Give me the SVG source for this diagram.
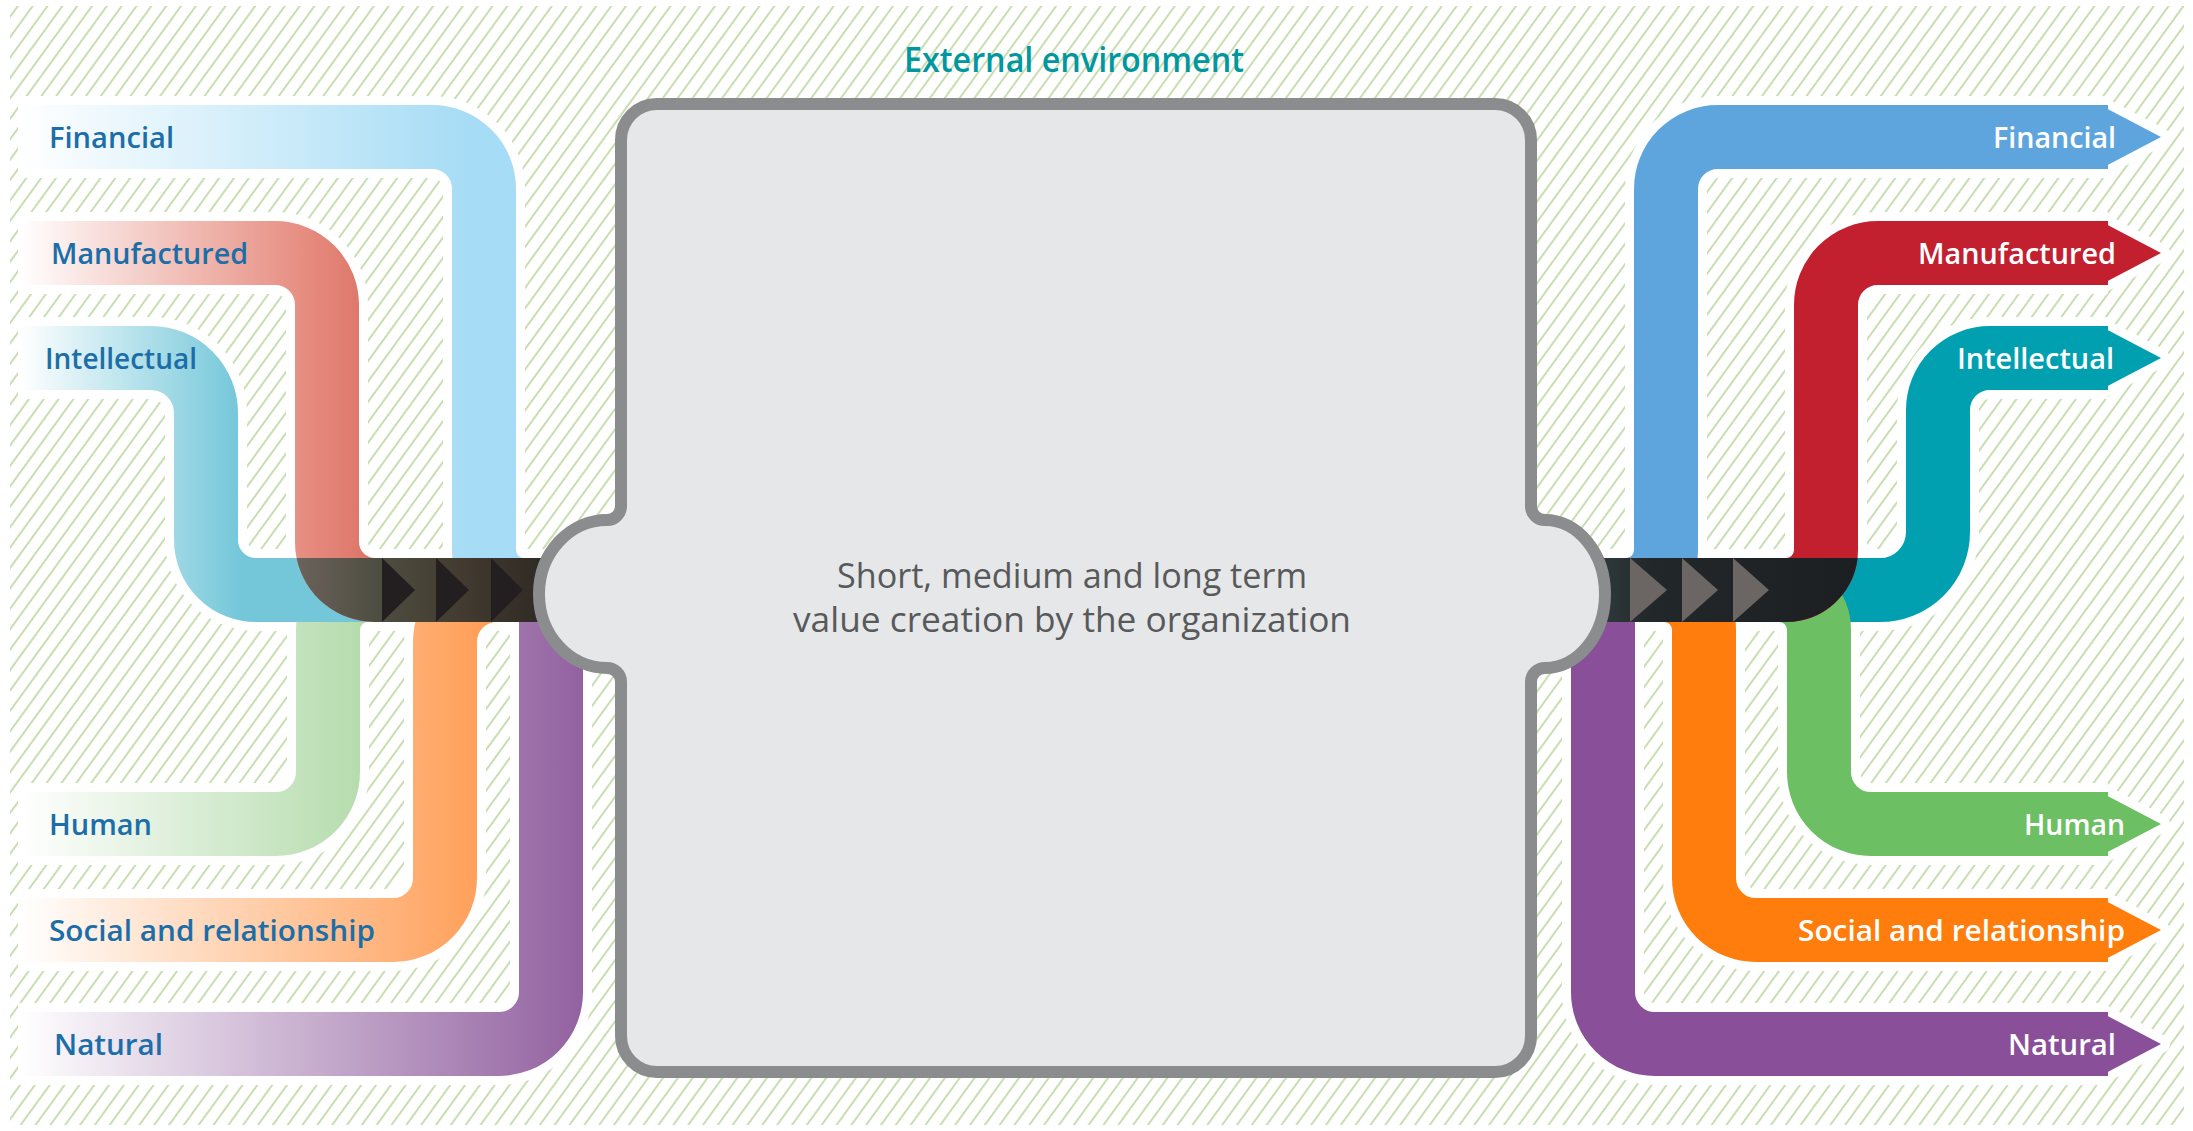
<svg xmlns="http://www.w3.org/2000/svg" width="2193" height="1131" viewBox="0 0 2193 1131">
<defs>
<style>
.halo{fill:none;stroke:#ffffff;stroke-width:82;stroke-linejoin:round}
.band{fill:none;stroke-width:64}
.ahalo{stroke:#ffffff;stroke-width:18;stroke-linejoin:round}
.lbl{font-family:"Open Sans","Liberation Sans",Arial,sans-serif;font-size:29px;font-weight:600}
.lblL{fill:#1b6ea8}
.lblR{fill:#ffffff}
.ctr{font-family:"Open Sans","Liberation Sans",Arial,sans-serif;font-size:35px;font-weight:500;fill:#58595b}
.ttl{font-family:"Open Sans","Liberation Sans",Arial,sans-serif;font-size:34px;font-weight:600;fill:#00979f}
.triL{fill:#231f20}
.triR{fill:#6b6563}
</style>
<pattern id="hatch" width="12" height="12" patternUnits="userSpaceOnUse" patternTransform="rotate(36)">
<rect width="12" height="12" fill="#ffffff"/>
<line x1="6" y1="0" x2="6" y2="12" stroke="#bfd8a4" stroke-width="1.7"/>
</pattern>
<linearGradient id="gFinL" gradientUnits="userSpaceOnUse" x1="20" y1="0" x2="470" y2="0"><stop offset="0" stop-color="#ffffff"/><stop offset="1" stop-color="#a6dcf5"/></linearGradient>
<linearGradient id="gManL" gradientUnits="userSpaceOnUse" x1="20" y1="0" x2="360" y2="0"><stop offset="0" stop-color="#ffffff"/><stop offset="0.85" stop-color="#e68b7e"/><stop offset="1" stop-color="#de786c"/></linearGradient>
<linearGradient id="gIntL" gradientUnits="userSpaceOnUse" x1="20" y1="0" x2="240" y2="0"><stop offset="0" stop-color="#ffffff"/><stop offset="1" stop-color="#74c7d9"/></linearGradient>
<linearGradient id="gHumL" gradientUnits="userSpaceOnUse" x1="20" y1="0" x2="360" y2="0"><stop offset="0" stop-color="#ffffff"/><stop offset="1" stop-color="#b6dcae"/></linearGradient>
<linearGradient id="gSocL" gradientUnits="userSpaceOnUse" x1="20" y1="0" x2="478" y2="0"><stop offset="0" stop-color="#ffffff"/><stop offset="1" stop-color="#ffa05a"/></linearGradient>
<linearGradient id="gNatL" gradientUnits="userSpaceOnUse" x1="20" y1="0" x2="585" y2="0"><stop offset="0" stop-color="#ffffff"/><stop offset="1" stop-color="#9261a0"/></linearGradient>
<linearGradient id="gTrunkL" gradientUnits="userSpaceOnUse" x1="297" y1="0" x2="548" y2="0"><stop offset="0" stop-color="#6b625c"/><stop offset="0.33" stop-color="#4d4d40"/><stop offset="0.65" stop-color="#433b30"/><stop offset="1" stop-color="#2e2924"/></linearGradient>
<linearGradient id="gTrunkR" gradientUnits="userSpaceOnUse" x1="1600" y1="0" x2="1860" y2="0"><stop offset="0" stop-color="#2f3a3c"/><stop offset="0.2" stop-color="#222729"/><stop offset="1" stop-color="#1c1f21"/></linearGradient>
</defs>

<rect width="2193" height="1131" fill="#ffffff"/>
<rect x="10" y="6" width="2174" height="1119" fill="url(#hatch)"/>

<g id="connectors">
  <g id="halos">
    <path class="halo" d="M 551 600 V 992 A 52 52 0 0 1 499 1044 H 18"/>
    <path class="halo" d="M 560 590 H 497 A 52 52 0 0 0 445 642 V 878 A 52 52 0 0 1 393 930 H 18"/>
    <path class="halo" d="M 560 590 H 368 A 40 40 0 0 0 328 630 V 772 A 52 52 0 0 1 276 824 H 18"/>
    <path class="halo" d="M 18 358 H 151 A 55 55 0 0 1 206 413 V 540 A 50 50 0 0 0 256 590 H 560"/>
    <path class="halo" d="M 18 253 H 275 A 52 52 0 0 1 327 305 V 542 A 48 48 0 0 0 375 590 H 560"/>
    <path class="halo" d="M 18 137 H 432 A 52 52 0 0 1 484 189 V 550 A 40 40 0 0 0 524 590 H 560"/>
    <path class="halo" d="M 1603 600 V 992 A 52 52 0 0 0 1655 1044 H 2108"/>
    <path class="halo" d="M 1540 590 H 1664 A 40 40 0 0 1 1704 630 V 878 A 52 52 0 0 0 1756 930 H 2108"/>
    <path class="halo" d="M 1540 590 H 1779 A 40 40 0 0 1 1819 630 V 772 A 52 52 0 0 0 1871 824 H 2108"/>
    <path class="halo" d="M 1540 590 H 1880 A 58 58 0 0 0 1938 532 V 410 A 52 52 0 0 1 1990 358 H 2108"/>
    <path class="halo" d="M 1540 590 H 1786 A 40 40 0 0 0 1826 550 V 305 A 52 52 0 0 1 1878 253 H 2108"/>
    <path class="halo" d="M 1540 590 H 1626 A 40 40 0 0 0 1666 550 V 189 A 52 52 0 0 1 1718 137 H 2108"/>
    <polygon class="ahalo" fill="#ffffff" points="2100,105 2161,137 2100,169"/>
    <polygon class="ahalo" fill="#ffffff" points="2100,221 2161,253 2100,285"/>
    <polygon class="ahalo" fill="#ffffff" points="2100,326 2161,358 2100,390"/>
    <polygon class="ahalo" fill="#ffffff" points="2100,792 2161,824 2100,856"/>
    <polygon class="ahalo" fill="#ffffff" points="2100,898 2161,930 2100,962"/>
    <polygon class="ahalo" fill="#ffffff" points="2100,1012 2161,1044 2100,1076"/>
  </g>
  <g id="inputs">
    <path class="band" stroke="url(#gNatL)" d="M 551 600 V 992 A 52 52 0 0 1 499 1044 H 18"/>
    <path class="band" stroke="url(#gSocL)" d="M 560 590 H 497 A 52 52 0 0 0 445 642 V 878 A 52 52 0 0 1 393 930 H 18"/>
    <path class="band" stroke="url(#gHumL)" d="M 560 590 H 368 A 40 40 0 0 0 328 630 V 772 A 52 52 0 0 1 276 824 H 18"/>
    <path class="band" stroke="url(#gIntL)" d="M 18 358 H 151 A 55 55 0 0 1 206 413 V 540 A 50 50 0 0 0 256 590 H 560"/>
    <path class="band" stroke="url(#gManL)" d="M 18 253 H 275 A 52 52 0 0 1 327 305 V 542 A 48 48 0 0 0 375 590 H 560"/>
    <path class="band" stroke="url(#gFinL)" d="M 18 137 H 432 A 52 52 0 0 1 484 189 V 550 A 40 40 0 0 0 524 590 H 560"/>
  </g>
  <g id="outputs">
    <path class="band" stroke="#894f99" d="M 1603 600 V 992 A 52 52 0 0 0 1655 1044 H 2108"/>
    <path class="band" stroke="#fe7d0c" d="M 1540 590 H 1664 A 40 40 0 0 1 1704 630 V 878 A 52 52 0 0 0 1756 930 H 2108"/>
    <path class="band" stroke="#00a0b1" d="M 1540 590 H 1880 A 58 58 0 0 0 1938 532 V 410 A 52 52 0 0 1 1990 358 H 2108"/>
    <path class="band" stroke="#6dbf63" d="M 1540 590 H 1779 A 40 40 0 0 1 1819 630 V 772 A 52 52 0 0 0 1871 824 H 2108"/>
    <path class="band" stroke="#c21f2f" d="M 1540 590 H 1786 A 40 40 0 0 0 1826 550 V 305 A 52 52 0 0 1 1878 253 H 2108"/>
    <path class="band" stroke="#5ea5de" d="M 1540 590 H 1626 A 40 40 0 0 0 1666 550 V 189 A 52 52 0 0 1 1718 137 H 2108"/>
    <polygon fill="#5ea5de" points="2100,105 2161,137 2100,169"/>
    <polygon fill="#c21f2f" points="2100,221 2161,253 2100,285"/>
    <polygon fill="#00a0b1" points="2100,326 2161,358 2100,390"/>
    <polygon fill="#6dbf63" points="2100,792 2161,824 2100,856"/>
    <polygon fill="#fe7d0c" points="2100,898 2161,930 2100,962"/>
    <polygon fill="#894f99" points="2100,1012 2161,1044 2100,1076"/>
  </g>
  <g id="trunks">
    <path fill="url(#gTrunkL)" d="M 296.6 558 H 548 V 622 H 375 A 80 80 0 0 1 296.6 558 Z"/>
    <polygon class="triL" points="382,558 415,590 382,622"/>
    <polygon class="triL" points="436,558 469,590 436,622"/>
    <polygon class="triL" points="491,558 523,590 491,622"/>
    <path fill="url(#gTrunkR)" d="M 1540 558 H 1857.6 A 72 72 0 0 1 1786 622 H 1540 Z"/>
    <polygon class="triR" points="1630,558 1667,590 1630,622"/>
    <polygon class="triR" points="1682,558 1718,590 1682,622"/>
    <polygon class="triR" points="1733,558 1769,590 1733,622"/>
  </g>
</g>

<g id="node-organization">
  <path fill="#e6e7e8" stroke="#8b8c8e" stroke-width="12" d="M 657 104 H 1495 A 36 36 0 0 1 1531 140 V 506 A 14 14 0 0 0 1545 520 A 60 74 0 0 1 1545 668 A 14 14 0 0 0 1531 682 V 1036 A 36 36 0 0 1 1495 1072 H 657 A 36 36 0 0 1 621 1036 V 682 A 14 14 0 0 0 607 668 A 68 74 0 0 1 607 520 A 14 14 0 0 0 621 506 V 140 A 36 36 0 0 1 657 104 Z"/>
  <text class="ctr" x="837" y="588" textLength="470" lengthAdjust="spacingAndGlyphs">Short, medium and long term</text>
  <text class="ctr" x="793" y="632" textLength="558" lengthAdjust="spacingAndGlyphs">value creation by the organization</text>
</g>

<g id="node-external">
  <text class="ttl" x="904" y="72" textLength="340" lengthAdjust="spacingAndGlyphs">External environment</text>
</g>

<g id="node-in-financial"><text class="lbl lblL" x="49" y="148" textLength="125" lengthAdjust="spacingAndGlyphs">Financial</text></g>
<g id="node-in-manufactured"><text class="lbl lblL" x="51" y="264" textLength="197" lengthAdjust="spacingAndGlyphs">Manufactured</text></g>
<g id="node-in-intellectual"><text class="lbl lblL" x="45" y="369" textLength="152" lengthAdjust="spacingAndGlyphs">Intellectual</text></g>
<g id="node-in-human"><text class="lbl lblL" x="49" y="835" textLength="103" lengthAdjust="spacingAndGlyphs">Human</text></g>
<g id="node-in-social"><text class="lbl lblL" x="49" y="941" textLength="326" lengthAdjust="spacingAndGlyphs">Social and relationship</text></g>
<g id="node-in-natural"><text class="lbl lblL" x="54" y="1055" textLength="109" lengthAdjust="spacingAndGlyphs">Natural</text></g>

<g id="node-out-financial"><text class="lbl lblR" x="1993" y="148" textLength="123" lengthAdjust="spacingAndGlyphs">Financial</text></g>
<g id="node-out-manufactured"><text class="lbl lblR" x="1918" y="264" textLength="198" lengthAdjust="spacingAndGlyphs">Manufactured</text></g>
<g id="node-out-intellectual"><text class="lbl lblR" x="1957" y="369" textLength="157" lengthAdjust="spacingAndGlyphs">Intellectual</text></g>
<g id="node-out-human"><text class="lbl lblR" x="2024" y="835" textLength="101" lengthAdjust="spacingAndGlyphs">Human</text></g>
<g id="node-out-social"><text class="lbl lblR" x="1798" y="941" textLength="327" lengthAdjust="spacingAndGlyphs">Social and relationship</text></g>
<g id="node-out-natural"><text class="lbl lblR" x="2008" y="1055" textLength="108" lengthAdjust="spacingAndGlyphs">Natural</text></g>
</svg>
